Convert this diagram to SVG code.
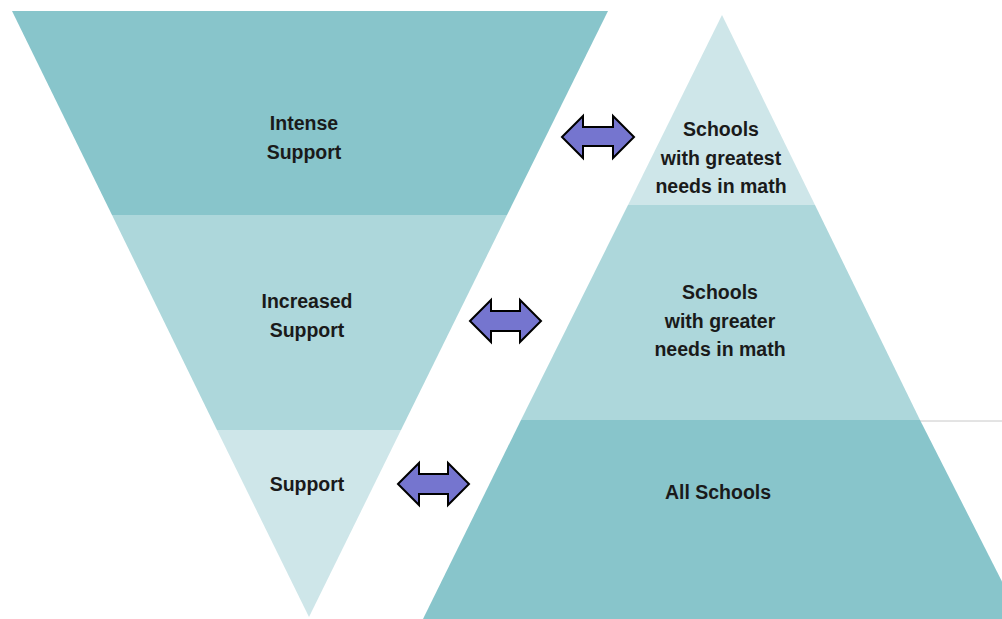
<svg xmlns="http://www.w3.org/2000/svg" width="1002" height="619" viewBox="0 0 1002 619">
<defs>
<style>
.t{font-family:"Liberation Sans",Arial,sans-serif;font-weight:bold;font-size:19.5px;fill:#1a1a1a;text-anchor:middle}
.dark{fill:#88C5CB}
.mid{fill:#ADD7DB}
.light{fill:#CEE6E9}
.arr{fill:#7575CF;stroke:#000;stroke-width:2;stroke-linejoin:miter}
</style>
<clipPath id="c"><rect x="0" y="0" width="1002" height="619"/></clipPath>
</defs>
<rect width="1002" height="619" fill="#fff"/>
<line x1="918" y1="421" x2="1002" y2="421" stroke="#C8C8C8" stroke-width="1"/>
<g id="funnel-intense">
<polygon class="dark" points="12,11 608,11 507,215 112,215"/>
<text class="t" x="304" y="130">Intense</text>
<text class="t" x="304" y="159">Support</text>
</g>
<g id="funnel-increased">
<polygon class="mid" points="112,215 507,215 401,430 217,430"/>
<text class="t" x="307" y="308">Increased</text>
<text class="t" x="307" y="337">Support</text>
</g>
<g id="funnel-support">
<polygon class="light" points="217,430 401,430 309,617"/>
<text class="t" x="307" y="491">Support</text>
</g>
<g id="pyramid-greatest">
<polygon class="light" points="722,15 815,205 628,205"/>
<text class="t" x="721" y="136">Schools</text>
<text class="t" x="721" y="165">with greatest</text>
<text class="t" x="721" y="193">needs in math</text>
</g>
<g id="pyramid-greater">
<polygon class="mid" points="628,205 815,205 920,420 521,420"/>
<text class="t" x="720" y="299">Schools</text>
<text class="t" x="720" y="328">with greater</text>
<text class="t" x="720" y="356">needs in math</text>
</g>
<g id="pyramid-all" clip-path="url(#c)">
<polygon class="dark" points="521,420 920,420 1021,619 423,619"/>
<text class="t" x="718" y="499">All Schools</text>
</g>
<g id="connectors">
<polygon class="arr" points="562,137 583,116 583,127 613,127 613,116 634,137 613,158 613,146 583,146 583,158"/>
<polygon class="arr" points="470,321 491,300 491,311 520,311 520,300 541,321 520,342 520,331 491,331 491,342"/>
<polygon class="arr" points="398,484 419,463 419,474 448,474 448,463 469,484 448,505 448,494 419,494 419,505"/>
</g>
</svg>
